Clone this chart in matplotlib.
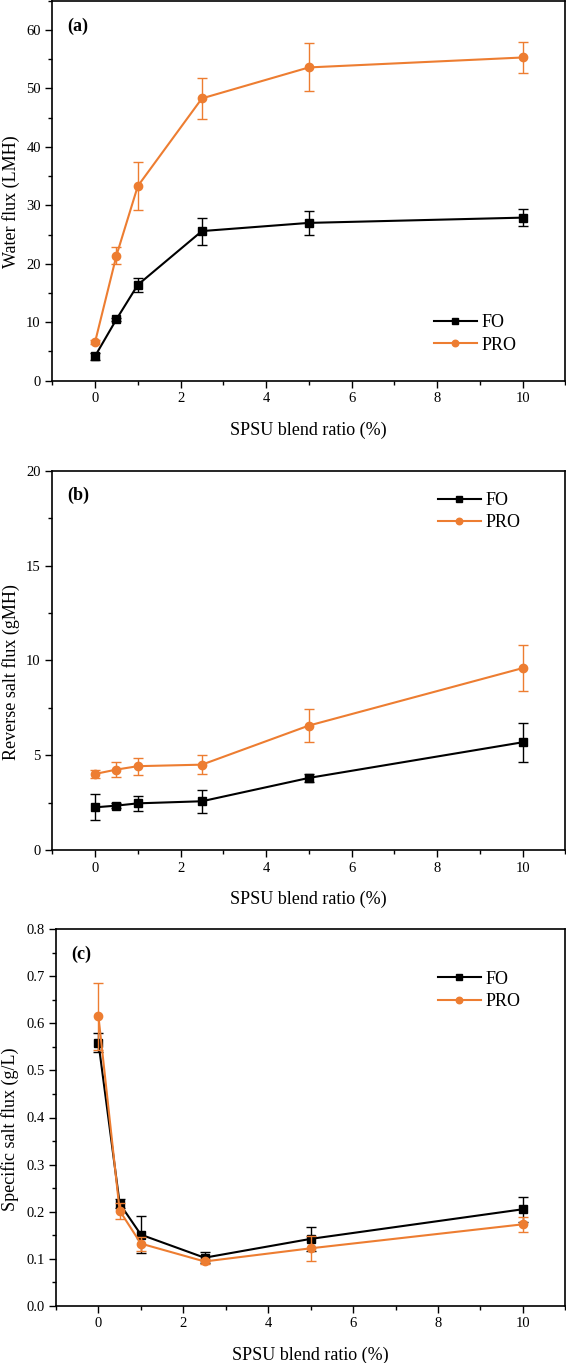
import matplotlib
matplotlib.use("Agg")
import matplotlib.pyplot as plt
from matplotlib.ticker import MultipleLocator, FormatStrFormatter

plt.rcParams['font.family'] = ['Liberation Serif', 'DejaVu Serif']
plt.rcParams['mathtext.fontset'] = 'stix'

# ---------------- data ----------------
ratio = [0, 0.5, 1, 2.5, 5, 10]

water_fo = [4.2, 10.5, 16.4, 25.6, 27.0, 27.9]
water_fo_err = [0.6, 0.3, 1.2, 2.3, 2.0, 1.5]
water_pro = [6.6, 21.4, 33.3, 48.3, 53.6, 55.3]
water_pro_err = [0.3, 1.5, 4.1, 3.45, 4.1, 2.7]

salt_fo = [2.25, 2.34, 2.46, 2.57, 3.80, 5.68]
salt_fo_err = [0.69, 0.15, 0.41, 0.60, 0.20, 1.04]
salt_pro = [4.01, 4.24, 4.42, 4.50, 6.56, 9.59]
salt_pro_err = [0.20, 0.38, 0.45, 0.51, 0.85, 1.23]

spec_fo = [0.559, 0.217, 0.151, 0.102, 0.142, 0.205]
spec_fo_err = [0.020, 0.010, 0.039, 0.012, 0.025, 0.027]
spec_pro = [0.615, 0.202, 0.132, 0.094, 0.122, 0.173]
spec_pro_err = [0.071, 0.017, 0.015, 0.005, 0.026, 0.016]

series_names = ["FO", "PRO"]
panel_tags = ["(a)", "(b)", "(c)"]
y_labels = ["Water flux (LMH)", "Reverse salt flux (gMH)", "Specific salt flux (g/L)"]
x_label = "SPSU blend ratio (%)"

BLACK = "#000000"
ORANGE = "#ED7D31"

W, H = 566, 1363
fig = plt.figure(figsize=(W / 100, H / 100), dpi=100)

def px_axes(left, right, top, bottom):
    return fig.add_axes([left / W, 1 - bottom / H, (right - left) / W, (bottom - top) / H])

axA = px_axes(52.3, 565.3, 0.8, 380.7)
axB = px_axes(52.3, 565.3, 470.7, 850.0)
axC = px_axes(56.0, 565.3, 929.3, 1305.7)

panels = [
    (axA, water_fo, water_fo_err, water_pro, water_pro_err, (0, 65), 10, 5, "%d", (0.744, 0.123), -0.063),
    (axB, salt_fo, salt_fo_err, salt_pro, salt_pro_err, (0, 20), 5, 2.5, "%d", (0.752, 0.892), -0.063),
    (axC, spec_fo, spec_fo_err, spec_pro, spec_pro_err, (0, 0.8), 0.1, 0.05, "%.1f", (0.750, 0.838), -0.072),
]

for i, (ax, fo, foe, pro, proe, ylim, ymaj, ymin, yfmt, legpos, ylx) in enumerate(panels):
    e1 = ax.errorbar(ratio, fo, yerr=foe, color=BLACK, marker='s', markersize=5.8, lw=1.5,
                     elinewidth=1.0, capsize=3.3, capthick=1.0, zorder=3)
    e2 = ax.errorbar(ratio, pro, yerr=proe, color=ORANGE, ecolor=ORANGE, marker='o', markersize=6.0,
                     lw=1.5, elinewidth=1.0, capsize=3.3, capthick=1.0, zorder=4)
    ax.set_xlim(-1, 11)
    ax.set_ylim(*ylim)
    ax.xaxis.set_major_locator(MultipleLocator(2))
    ax.xaxis.set_minor_locator(MultipleLocator(1))
    ax.yaxis.set_major_locator(MultipleLocator(ymaj))
    ax.yaxis.set_minor_locator(MultipleLocator(ymin))
    ax.yaxis.set_major_formatter(FormatStrFormatter(yfmt))
    ax.tick_params(which='major', direction='out', length=5, width=1.0, labelsize=10.5, pad=3.3)
    ax.tick_params(which='minor', direction='out', length=3, width=1.0)
    ax.tick_params(top=False, right=False, which='both')
    for sp in ax.spines.values():
        sp.set_linewidth(1.2)
    ax.set_xlabel(x_label, fontsize=13)
    ax.set_ylabel(y_labels[i], fontsize=13)
    ax.xaxis.set_label_coords(0.5, -0.108)
    ax.yaxis.set_label_coords(ylx, 0.47)
    ax.text(0.029, 0.934, panel_tags[i], transform=ax.transAxes, fontsize=13,
            fontweight='bold', ha='left', va='center')
    ax.legend(handles=[e1[0], e2[0]], labels=series_names, loc='center left',
              bbox_to_anchor=legpos, frameon=False, fontsize=13,
              borderpad=0, borderaxespad=0, handlelength=2.36, handletextpad=0.28,
              labelspacing=0.3, markerscale=0.78)

fig.savefig("out.png", dpi=100)
